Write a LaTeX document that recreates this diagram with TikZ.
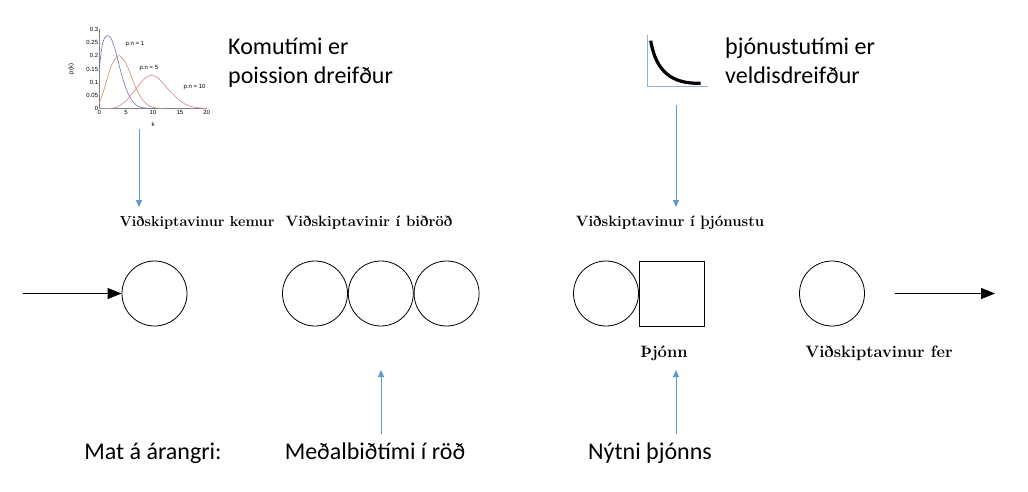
\documentclass[tikz,border=0pt]{standalone}
\usepackage{fontspec}
\newfontfamily\calibri{Carlito}
\newfontfamily\plotfont{Liberation Sans}
\usetikzlibrary{positioning}
\usetikzlibrary{arrows.meta}
\definecolor{officeblue}{RGB}{91,155,213}
\definecolor{axisblue}{RGB}{140,180,215}
\definecolor{curveone}{RGB}{110,120,170}
\definecolor{curvefive}{RGB}{195,140,110}
\definecolor{curveten}{RGB}{215,130,150}

\begin{document}
\begin{tikzpicture}[x=1pt, y=-1pt,
		cust/.style = {draw, circle, minimum size=65pt, inner sep=0pt, line width=0.8pt},
		server/.style = {draw, rectangle, minimum size=65pt, inner sep=0pt, line width=0.8pt},
		lbl/.style = {font=\bfseries\fontsize{#1}{16}\selectfont, inner sep=0pt, anchor=base},
		lbl/.default = 13,
		note/.style = {font=\calibri\fontsize{24}{29}\selectfont, align=left, inner sep=0pt},
		hint/.style = {draw=officeblue, line width=0.9pt, -{Triangle[width=6pt,length=7pt]}},
		flow/.style = {draw, line width=0.8pt, -{Triangle[width=11pt,length=14pt]}},
		tick/.style = {font=\plotfont\fontsize{6}{7}\selectfont, inner sep=1pt},
		node distance=0pt]
	\useasboundingbox (0,0) rectangle (1028,492);

	% poisson plot
	\begin{scope}[shift={(99.3,108.7)}, x=5.37pt, y=264.7pt]
		\draw[gray, line width=0.4pt] (0,0.3) -- (0,0) -- (20,0);
		\foreach \v in {0,0.05,0.1,0.15,0.2,0.25,0.3}
			\node[tick, anchor=east] at (0,\v) {\v};
		\foreach \k in {0,5,10,15,20}
			\node[tick, anchor=north] at (\k,0) {\k};
		\node[tick] (kaxis) at (10,-0.06) {k};
		\node[tick, rotate=90] (paxis) at (-5.2,0.15) {p(k)};
		\draw[curveone, line width=0.6pt] plot[smooth] coordinates {(0,0.15) (0.5,0.235) (1,0.268) (1.6,0.276) (2.2,0.265) (3,0.22) (4,0.14) (5,0.075) (6,0.033) (7,0.012) (8,0.004) (10,0)};
		\draw[curvefive, line width=0.6pt] plot[smooth] coordinates {(0,0.02) (1,0.08) (2,0.15) (3,0.19) (3.8,0.2) (5,0.17) (6,0.12) (7,0.07) (8,0.035) (9,0.015) (10,0.005) (12,0)};
		\draw[curveten, line width=0.6pt] plot[smooth] coordinates {(0,0) (3,0.004) (5,0.03) (7,0.08) (8.5,0.115) (9.7,0.126) (11,0.115) (13,0.07) (15,0.03) (17,0.009) (20,0)};
		\node[tick, anchor=west] (pn1) at (4.7,0.245) {p.n = 1};
		\node[tick, anchor=west] (pn5) at (7.3,0.155) {p.n = 5};
		\node[tick, anchor=west] (pn10) at (15.5,0.08) {p.n = 10};
	\end{scope}

	% exponential icon
	\draw[axisblue, line width=0.8pt] (647.3,35) -- (647.3,86) -- (708,86);
	\draw[line width=3.2pt] (650.7,40.7) .. controls (656,72) and (672,84) .. (700.7,83.3);

	% notes
	\node[note, anchor=north west] (komu) at (228,38) {Komutími er\\poission dreifður};
	\node[note, anchor=north west] (thjon) at (725,38) {þjónustutími er\\veldisdreifður};

	% queue
	\node[cust] (arrive) at (154.5,293.5) {};
	\node[cust] (q1) at (315,293.5) {};
	\node[cust, right=0pt of q1] (q2) {};
	\node[cust, right=0pt of q2] (q3) {};
	\node[cust] (wait) at (606,293.5) {};
	\node[server, right=0pt of wait] (srv) {};
	\node[cust] (leave) at (832,293.5) {};

	\node[lbl=14.5] (lkemur) at (197,226) {Viðskiptavinur kemur};
	\node[lbl=15] (lrod) at (369,226) {Viðskiptavinir í biðröð};
	\node[lbl=15] (lthjon) at (670,226) {Viðskiptavinur í þjónustu};
	\node[lbl=16.5] (lserver) at (664,357) {Þjónn};
	\node[lbl=16.5] (lfer) at (879,357) {Viðskiptavinur fer};

	\coordinate (in) at (23,293.5);
	\draw[flow] (in) -- (arrive);
	\coordinate (outa) at (895,293.5);
	\coordinate (outb) at (995,293.5);
	\draw[flow] (outa) -- (outb);

	% results
	\node[note, anchor=base] (mat) at (153,459) {Mat á árangri:};
	\node[note, anchor=base] (bid) at (375,459) {Meðalbiðtími í röð};
	\node[note, anchor=base] (nyt) at (650,459) {Nýtni þjónns};

	\coordinate (pa) at (139,129);
	\coordinate (pb) at (139,207);
	\draw[hint] (pa) -- (pb);
	\coordinate (ea) at (676,105);
	\coordinate (eb) at (676,207);
	\draw[hint] (ea) -- (eb);
	\coordinate (ba) at (381,434);
	\coordinate (bb) at (381,370);
	\draw[hint] (ba) -- (bb);
	\coordinate (na) at (676,434);
	\coordinate (nb) at (676,370);
	\draw[hint] (na) -- (nb);
\end{tikzpicture}
\end{document}
